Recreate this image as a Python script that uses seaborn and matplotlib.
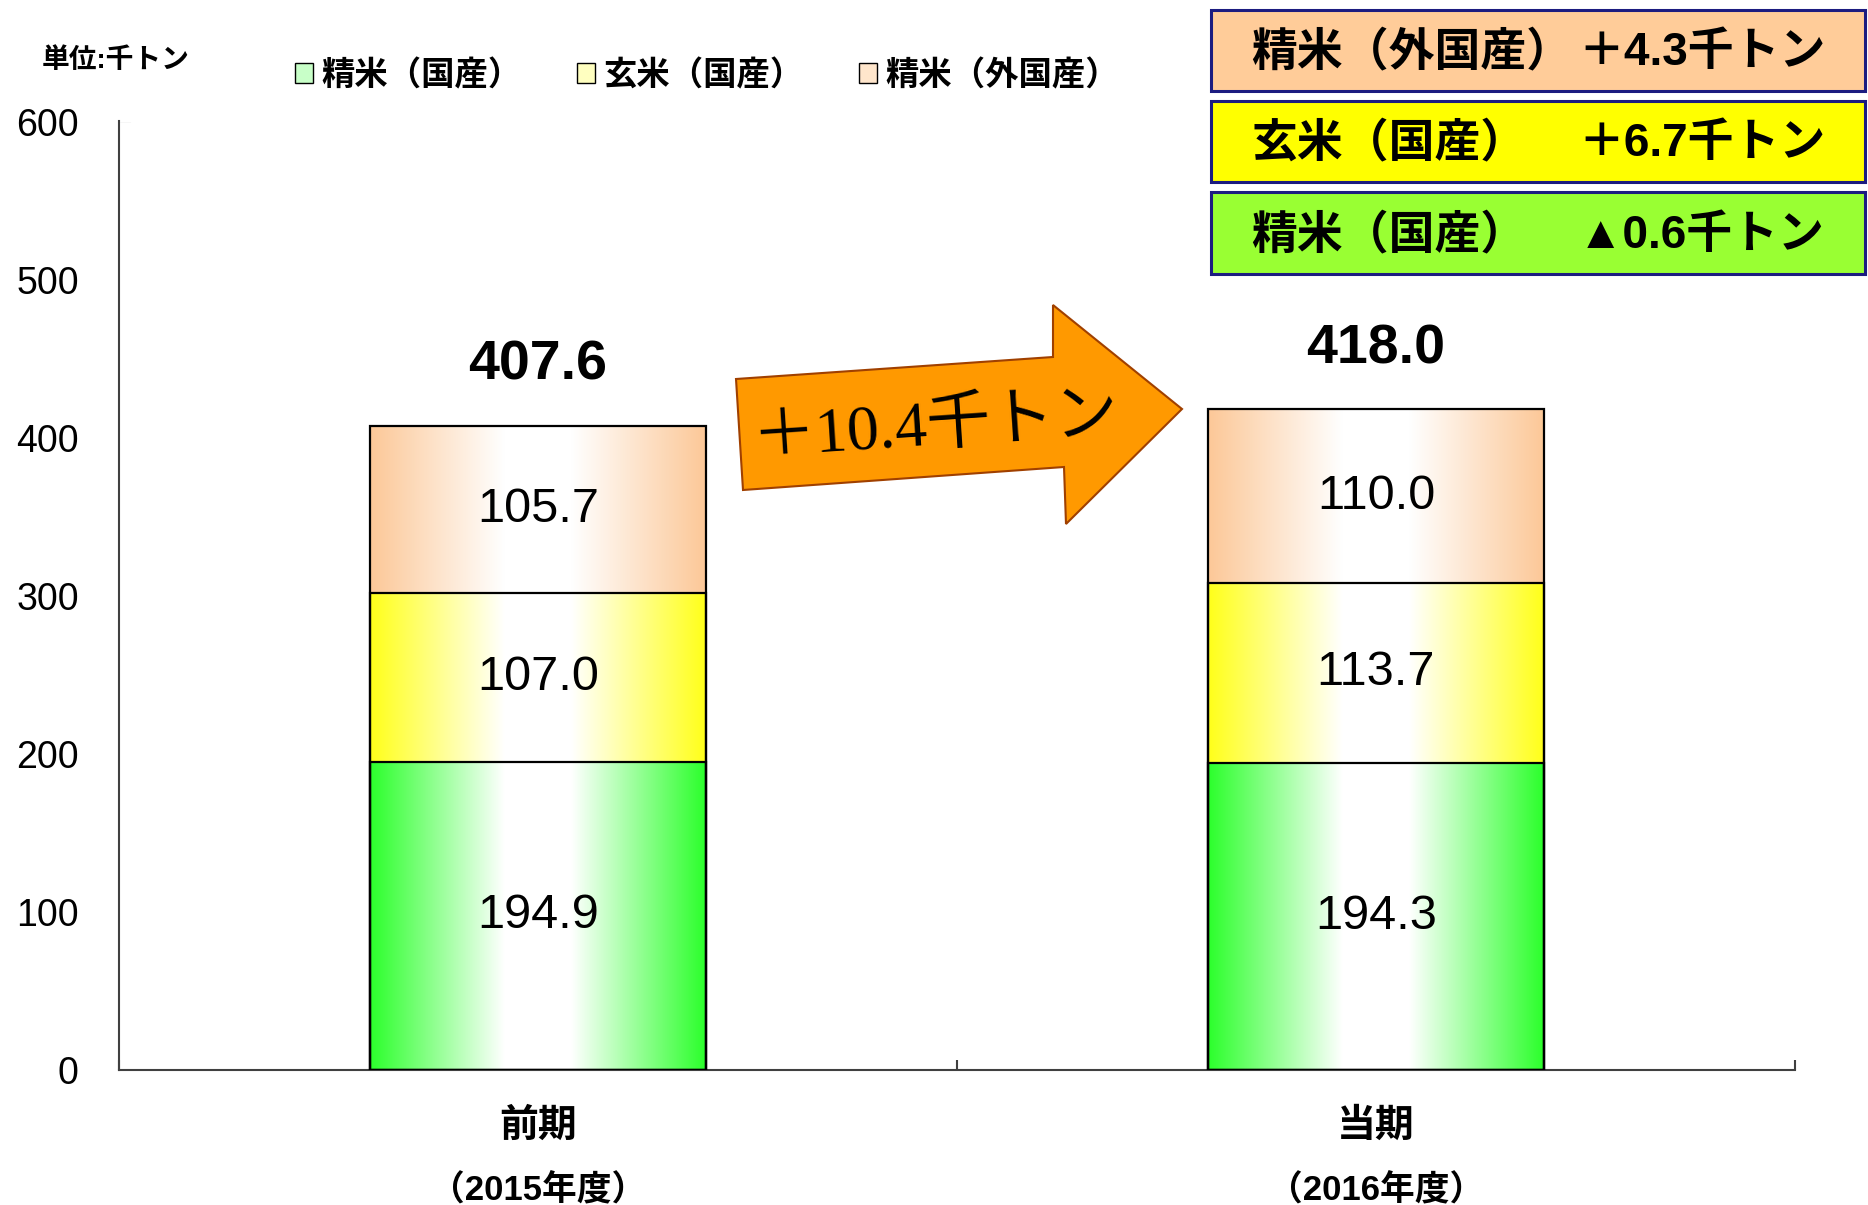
import numpy as np
import matplotlib
matplotlib.use('Agg')
import matplotlib.pyplot as plt
import matplotlib.transforms as mtransforms
from matplotlib.patches import Patch, Polygon, Rectangle
import seaborn as sns

# data (thousand tons)
periods = ['前期', '当期']
fiscal_years = ['（2015年度）', '（2016年度）']
series_names = ['精米（国産）', '玄米（国産）', '精米（外国産）']
domestic_polished = [194.9, 194.3]
domestic_brown = [107.0, 113.7]
foreign_polished = [105.7, 110.0]
unit_label = '単位:千トン'

bar_colors = ['#2cff2c', '#ffff1a', '#fcc898']      # gradient edge colours
legend_colors = ['#c8ffc8', '#ffffc0', '#ffe6cc']
box_colors = ['#99ff33', '#ffff00', '#ffcc99']

W, H = 1868, 1205

sns.set_theme(style='white')
plt.rcParams['font.family'] = ['Liberation Sans', 'Noto Sans CJK JP']
plt.rcParams['text.color'] = 'black'
plt.rcParams['xtick.color'] = 'black'
plt.rcParams['ytick.color'] = 'black'

fig = plt.figure(figsize=(W / 100, H / 100), dpi=100)
ax = fig.add_axes([119 / W, 135 / H, (1795 - 119) / W, (1070 - 121.5) / H])

segments = [domestic_polished, domestic_brown, foreign_polished]
stack = np.cumsum(segments, axis=0)


def gradient(color, n=256):
    rgb = np.array(matplotlib.colors.to_rgb(color))
    u = np.linspace(0, 1, n)
    w = np.clip((np.abs(u - 0.5) - 0.1) / 0.4, 0, 1)[:, None]
    return (1 - w) * np.ones(3) + w * rgb


# stacked bars: draw cumulative heights from the top layer down
for k in [2, 1, 0]:
    n0 = len(ax.patches)
    sns.barplot(x=periods, y=stack[k], width=0.4, color='white', saturation=1,
                edgecolor='black', linewidth=1.6, ax=ax)
    for p in ax.patches[n0:]:
        p.set_facecolor('none')
        p.set_zorder(5)
        x0, w, h = p.get_x(), p.get_width(), p.get_height()
        im = ax.imshow(gradient(bar_colors[k])[None, :, :], extent=(x0, x0 + w, 0, h),
                       aspect='auto', interpolation='bilinear', zorder=2 + (2 - k) * 0.1)
        im.set_clip_path(p)

ax.set_xlim(-0.5, 1.5)
ax.set_ylim(0, 600)

# segment labels
for k in range(3):
    for i in range(len(periods)):
        v = segments[k][i]
        ax.text(i, stack[k][i] - v / 2, f'{v:.1f}', ha='center', va='center',
                fontsize=35, zorder=10)

# totals
totals = stack[2]
for i, t in enumerate(totals):
    ax.text(i, t + 38, f'{t:.1f}', ha='center', va='center', fontsize=40,
            fontweight='bold', zorder=10)

# axes styling
ax.set_yticks(range(0, 700, 100))
ax.tick_params(axis='y', length=0, pad=29, labelsize=27)
ax.tick_params(axis='x', which='major', bottom=True, length=0, pad=28, labelsize=28)
for lab in ax.get_xticklabels():
    lab.set_fontweight('bold')
ax.set_xticks([-0.5, 0.5, 1.5], minor=True)
ax.tick_params(axis='x', which='minor', bottom=True, direction='in', length=7,
               width=1.5, color='#404040')
ax.set_xlabel('')
ax.set_ylabel('')
for s in ['top', 'right']:
    ax.spines[s].set_visible(False)
for s in ['left', 'bottom']:
    ax.spines[s].set_color('#404040')
    ax.spines[s].set_linewidth(1.5)
ax.axhline(600, xmin=0, xmax=0.007, color='#404040', lw=1.5)

blend = mtransforms.blended_transform_factory(ax.transData, ax.transAxes)
for i, yr in enumerate(fiscal_years):
    ax.text(i, -0.127, yr, transform=blend, ha='center', va='center',
            fontsize=25, fontweight='bold')

# legend
handles = [Patch(facecolor=c, edgecolor='black', lw=1) for c in legend_colors]
fig.legend(handles, series_names, loc='center left', bbox_to_anchor=(295 / W, 1 - 76 / H),
           ncol=3, frameon=False, handlelength=0.55, handleheight=0.55,
           handletextpad=0.25, columnspacing=1.65, borderpad=0, borderaxespad=0,
           prop={'size': 24, 'weight': 'bold'})
fig.text(42 / W, 1 - 61 / H, unit_label, fontsize=20, fontweight='bold',
         ha='left', va='center')

# change boxes (top right)
changes = [foreign_polished[1] - foreign_polished[0],
           domestic_brown[1] - domestic_brown[0],
           domestic_polished[1] - domestic_polished[0]]
order = [2, 1, 0]
rows = [(9.5, 90.5), (101, 182), (192, 274)]
for (y0, y1), k, d in zip(rows, order, changes):
    fig.add_artist(Rectangle((1211 / W, 1 - y1 / H), (1865 - 1211) / W, (y1 - y0) / H,
                             transform=fig.transFigure, facecolor=box_colors[k],
                             edgecolor='#1c1c80', lw=2.2))
    yc = 1 - ((y0 + y1) / 2 + 3) / H
    sign = '＋' if d >= 0 else '▲'
    fig.text(1251 / W, yc, series_names[k], fontsize=33, fontweight='bold',
             ha='left', va='center')
    fig.text(1578 / W, yc, f'{sign}{abs(d):.1f}千トン', fontsize=33, fontweight='bold',
             ha='left', va='center')

# big arrow with total change
arrow_px = [(736, 379), (1053, 357), (1053, 305), (1182, 409), (1066, 524),
            (1064, 467), (743, 490)]
fig.add_artist(Polygon([(x / W, 1 - y / H) for x, y in arrow_px], closed=True,
                       transform=fig.transFigure, facecolor='#ff9900',
                       edgecolor='#a04000', lw=1.5))
fig.text(935 / W, 1 - 429 / H, f'＋{totals[1] - totals[0]:.1f}千トン', rotation=3.8,
         rotation_mode='anchor', ha='center', va='center', fontsize=46,
         family=['Liberation Serif', 'Noto Sans CJK JP'])

fig.savefig('out.png', dpi=100)
